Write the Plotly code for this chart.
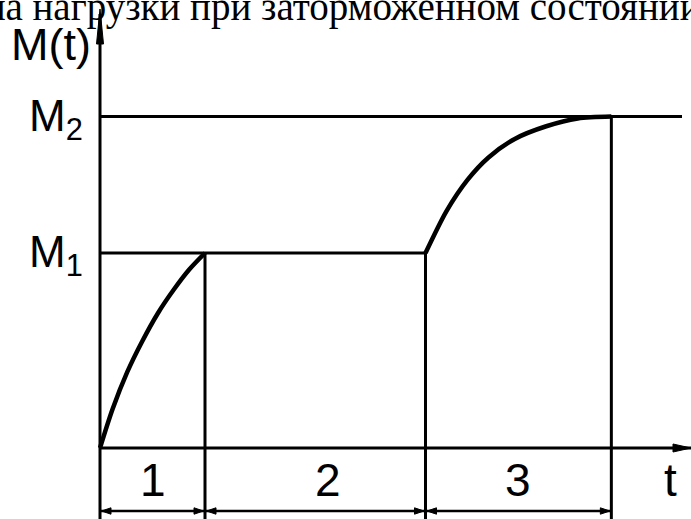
import plotly.graph_objects as go

# ---------------- data ----------------
PHASE_LABELS = ["1", "2", "3"]
T_BOUNDS = [0.0, 1.0, 3.1, 4.87]          # t0, t1, t2, t3
M_LEVEL_LABELS = ["M<sub>1</sub>", "M<sub>2</sub>"]
M_LEVELS = [1.0, 1.70]                    # M1, M2

CURVE1_T = [0.0, 0.12, 0.26, 0.40, 0.55, 0.70, 0.85, 1.0]
CURVE1_M = [0.0, 0.20, 0.39, 0.545, 0.69, 0.81, 0.915, 1.0]
CURVE3_T = [3.1, 3.3, 3.5, 3.7, 3.95, 4.25, 4.55, 4.87]
CURVE3_M = [1.0, 1.215, 1.375, 1.49, 1.585, 1.65, 1.69, 1.70]

TITLE_TEXT = "ма нагрузки при заторможенном состоянии"
Y_LABEL = "M(t)"
X_LABEL = "t"

# ---------------- layout geometry (pixels) ----------------
W, H = 691, 519
PX0, PY0 = 100, 448       # pixel position of origin
SX, SY = 105.0, 195.0     # pixels per unit

XMIN, XMAX = (0 - PX0) / SX, (W - PX0) / SX
YMIN, YMAX = (PY0 - H) / SY, PY0 / SY


def dx(px):
    return px / SX


def dy(px):
    return px / SY


def ypx(py):
    return (PY0 - py) / SY


def xpx(px):
    return (px - PX0) / SX


BLACK = "#000000"
fig = go.Figure()


def line(xs, ys, width=3):
    fig.add_trace(go.Scatter(x=xs, y=ys, mode="lines",
                             line=dict(color=BLACK, width=width),
                             hoverinfo="skip", showlegend=False))


def poly(xs, ys):
    fig.add_trace(go.Scatter(x=xs + [xs[0]], y=ys + [ys[0]], mode="lines",
                             fill="toself", fillcolor=BLACK,
                             line=dict(color=BLACK, width=1),
                             hoverinfo="skip", showlegend=False))


t0, t1, t2, t3 = T_BOUNDS
M1, M2 = M_LEVELS

# axes
y_top = ypx(14)
line([t0, t0], [YMIN, y_top], 3)
poly([t0, t0 - dx(3.5), t0 + dx(3.5)], [ypx(9), ypx(44), ypx(44)])
line([t0, XMAX], [0, 0], 3)
poly([XMAX, XMAX - dx(18), XMAX - dx(18)], [0, dy(4), -dy(4)])

# level lines
line([t0, xpx(682)], [M2, M2], 3)
line([t0, t2], [M1, M1], 3)

# vertical boundaries
line([t1, t1], [M1, YMIN], 3)
line([t2, t2], [M1, YMIN], 3)
line([t3, t3], [M2, YMIN], 3)

# curves
for cx, cy in ((CURVE1_T, CURVE1_M), (CURVE3_T, CURVE3_M)):
    fig.add_trace(go.Scatter(x=cx, y=cy, mode="lines",
                             line=dict(color=BLACK, width=4.5, shape="spline", smoothing=0.8),
                             hoverinfo="skip", showlegend=False))

# dimension line with arrowheads
dim_y = ypx(511)
line([t0, t3], [dim_y, dim_y], 2.5)
AL, AH = 11, 3.2
for a, b in zip(T_BOUNDS[:-1], T_BOUNDS[1:]):
    poly([a + dx(1.5), a + dx(AL), a + dx(AL)], [dim_y, dim_y + dy(AH), dim_y - dy(AH)])
    poly([b - dx(1.5), b - dx(AL), b - dx(AL)], [dim_y, dim_y + dy(AH), dim_y - dy(AH)])

# ---------------- text ----------------
SANS = "Liberation Sans, Arial, sans-serif"
SERIF = "Liberation Serif, Times New Roman, serif"
ann = []
ann.append(dict(x=-21 / W, y=1 - 7 / H, xref="paper", yref="paper", text=TITLE_TEXT,
                xanchor="left", yanchor="middle", showarrow=False,
                font=dict(family=SERIF, size=39, color=BLACK)))
ann.append(dict(x=xpx(51), y=ypx(44), xref="x", yref="y", text=Y_LABEL,
                xanchor="center", yanchor="middle", showarrow=False,
                font=dict(family=SANS, size=45, color=BLACK)))
for lab, lev in zip(M_LEVEL_LABELS, M_LEVELS):
    ann.append(dict(x=xpx(85), y=lev, xref="x", yref="y", text=lab,
                    xanchor="right", yanchor="middle", showarrow=False, yshift=-2,
                    font=dict(family=SANS, size=44, color=BLACK)))
shifts = [0, 13, 0]
for lab, a, b, s in zip(PHASE_LABELS, T_BOUNDS[:-1], T_BOUNDS[1:], shifts):
    ann.append(dict(x=(a + b) / 2, y=ypx(480), xref="x", yref="y", text=lab,
                    xanchor="center", yanchor="middle", showarrow=False, xshift=s,
                    font=dict(family=SANS, size=46, color=BLACK)))
ann.append(dict(x=xpx(670), y=ypx(480), xref="x", yref="y", text=X_LABEL,
                xanchor="center", yanchor="middle", showarrow=False,
                font=dict(family=SANS, size=46, color=BLACK)))

fig.update_layout(
    width=W, height=H,
    margin=dict(l=0, r=0, t=0, b=0),
    paper_bgcolor="white", plot_bgcolor="white",
    xaxis=dict(range=[XMIN, XMAX], visible=False, fixedrange=True),
    yaxis=dict(range=[YMIN, YMAX], visible=False, fixedrange=True),
    annotations=ann,
    showlegend=False,
)

fig.write_html("out.html", config={"displayModeBar": False},
               post_script="document.body.style.margin='0';document.body.style.overflow='hidden';")
